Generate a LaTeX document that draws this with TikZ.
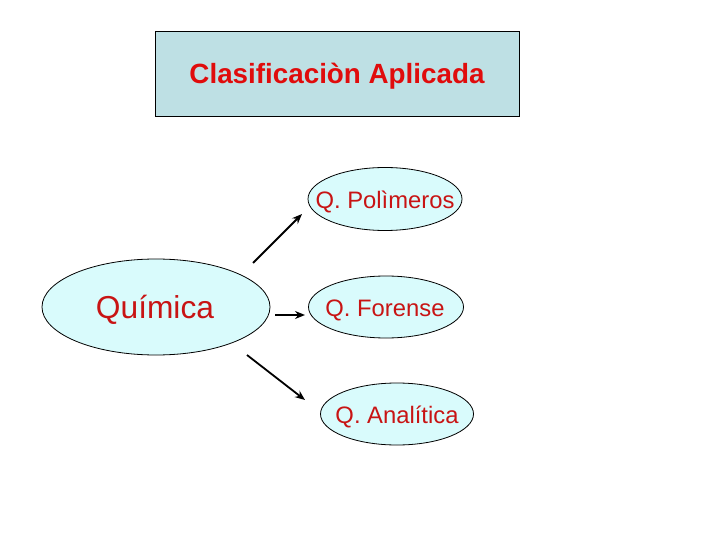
\documentclass[tikz,border=0pt]{standalone}
\usepackage{fontspec}
\setmainfont{Liberation Sans}
\usetikzlibrary{shapes.geometric,arrows.meta}
\definecolor{boxfill}{HTML}{BEE0E4}
\definecolor{ellfill}{HTML}{D9FBFC}
\definecolor{titlered}{HTML}{E00C0C}
\definecolor{txtred}{HTML}{C81414}
\tikzset{
  ell/.style={ellipse, draw=black, line width=0.8pt, fill=ellfill, inner sep=0pt},
  conn/.style={line width=1.8pt, -{Stealth[length=10pt,width=8pt]}},
  lbl/.style={text=txtred, inner sep=0pt},
}
\begin{document}
\begin{tikzpicture}[x=1pt,y=-1pt]
\useasboundingbox[fill=white] (0,0) rectangle (720,540);
\node[draw=black, line width=0.8pt, fill=boxfill, minimum width=364pt, minimum height=85pt, inner sep=0pt] (title) at (337,73.5) {};
\node[inner sep=0pt, text=titlered] (titletxt) at (337,76.5)
  {\fontsize{27.8}{32}\selectfont\bfseries Clasificaciòn Aplicada};
\node[ell, minimum width=228pt, minimum height=96pt] (quim) at (156,307) {};
\node[lbl] (quimtxt) at (155,310) {\fontsize{31.7}{36}\selectfont Química};
\node[ell, minimum width=154pt, minimum height=63pt] (pol) at (385,199) {};
\node[lbl] (poltxt) at (385,202) {\fontsize{23.8}{28}\selectfont Q. Polìmeros};
\node[ell, minimum width=155pt, minimum height=62pt] (for) at (386,307) {};
\node[lbl] (fortxt) at (385,310) {\fontsize{23.8}{28}\selectfont Q. Forense};
\node[ell, minimum width=153pt, minimum height=62pt] (ana) at (397,414) {};
\node[lbl] (anatxt) at (397,417) {\fontsize{23.8}{28}\selectfont Q. Analítica};
\coordinate (a1s) at (253,263);
\coordinate (a1e) at (302,214);
\coordinate (a2s) at (275,315);
\coordinate (a2e) at (305,315);
\coordinate (a3s) at (247,355);
\coordinate (a3e) at (305,400);
\draw[conn] (a1s) -- (a1e);
\draw[conn] (a2s) -- (a2e);
\draw[conn] (a3s) -- (a3e);
\end{tikzpicture}
\end{document}
